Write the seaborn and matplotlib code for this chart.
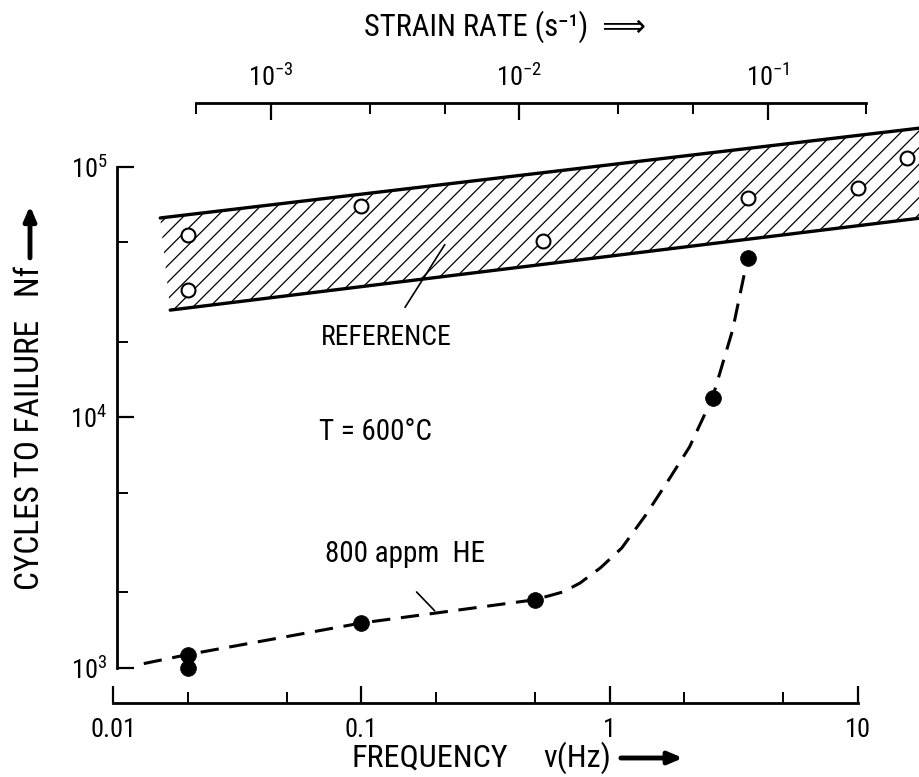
import matplotlib
matplotlib.use("Agg")
import matplotlib.pyplot as plt
import seaborn as sns
from matplotlib import font_manager, ticker

# ---- data -------------------------------------------------------------
# unirradiated reference tests (open circles)
ref_freq = [0.02, 0.02, 0.1, 0.54, 3.6, 10.0, 15.8]
ref_cycles = [53500, 32300, 69800, 50700, 75100, 82400, 108600]

# helium-implanted tests, 800 appm He (filled circles)
he_freq = [0.02, 0.02, 0.1, 0.5, 2.6, 3.6]
he_cycles = [1000, 1130, 1510, 1870, 12000, 43300]

# hand-drawn trend curve through the He data
curve_freq = [0.0133, 0.02, 0.1, 0.5, 0.65, 0.76, 0.92, 1.12, 1.4, 1.75, 2.1, 2.6, 3.13, 3.6]
curve_cycles = [1040, 1130, 1510, 1870, 2010, 2180, 2510, 3010, 4080, 5730, 7620, 12000, 22300, 43300]

# scatter band of the reference material
band_upper_freq = [0.0155, 18.0]
band_upper_cycles = [62500, 143000]
band_lower_freq = [0.017, 18.0]
band_lower_cycles = [26800, 62500]

freq_ticks = [0.01, 0.1, 1, 10]
freq_tick_labels = ["0.01", "0.1", "1", "10"]
freq_minor = [0.02, 0.05, 0.2, 0.5, 2, 5]
cycle_ticks = [1e3, 1e4, 1e5]
cycle_tick_labels = [r"$\mathregular{10^3}$", r"$\mathregular{10^4}$", r"$\mathregular{10^5}$"]
cycle_minor = [2e3, 5e3, 2e4, 5e4]
strain_ticks = [1e-3, 1e-2, 1e-1]
strain_tick_labels = [r"$\mathregular{10^{-3}}$", r"$\mathregular{10^{-2}}$", r"$\mathregular{10^{-1}}$"]
strain_minor = [5e-4, 2.5e-3, 5e-3, 2.5e-2, 5e-2, 0.25]
strain_per_hz = 0.0231  # strain rate (1/s) per Hz of cycling frequency

# ---- style ------------------------------------------------------------
sns.set_theme(style="ticks")
fonts = font_manager.fontManager.ttflist
names = {f.name for f in fonts}
stretch = "normal"
narrow = next((c for c in ["Liberation Sans Narrow", "Roboto Condensed",
                           "Open Sans Condensed", "Noto Sans Condensed"] if c in names), None)
if narrow is None:
    if any(f.name == "DejaVu Sans" and "condensed" in str(f.stretch) for f in fonts):
        narrow, stretch = "DejaVu Sans", "condensed"
    else:
        narrow = "Liberation Sans"
plt.rcParams["font.family"] = [narrow, "DejaVu Sans"]
plt.rcParams["font.stretch"] = stretch
plt.rcParams["mathtext.fontset"] = "custom"
plt.rcParams["mathtext.rm"] = narrow
plt.rcParams["hatch.linewidth"] = 0.9
ink = "black"

W, H = 920, 777
fig = plt.figure(figsize=(W / 100, H / 100), dpi=100)
ax = fig.add_axes([113 / W, 74 / H, 807 / W, 606 / H])
ax.set_xscale("log")
ax.set_yscale("log")
ax.set_xlim(0.01, 17.8)
ax.set_ylim(724, 190000)

# hatched scatter band
band_x = band_upper_freq + band_lower_freq[::-1]
band_y = band_upper_cycles + band_lower_cycles[::-1]
ax.fill(band_x, band_y, facecolor="none", edgecolor=ink, hatch="//", linewidth=0, zorder=1)
sns.lineplot(x=band_upper_freq, y=band_upper_cycles, color=ink, lw=2.4, ax=ax, zorder=2)
sns.lineplot(x=band_lower_freq, y=band_lower_cycles, color=ink, lw=2.4, ax=ax, zorder=2)

# He trend curve
sns.lineplot(x=curve_freq, y=curve_cycles, sort=False, estimator=None, color=ink,
             lw=2.2, linestyle=(0, (6, 3.5)), ax=ax, zorder=3)

sns.scatterplot(x=ref_freq, y=ref_cycles, marker="o", s=100, facecolor="white",
                edgecolor=ink, linewidth=1.5, ax=ax, zorder=4)
sns.scatterplot(x=he_freq, y=he_cycles, marker="o", s=130, color=ink,
                edgecolor=ink, linewidth=0.5, ax=ax, zorder=4)

# spines
for side in ["top", "right"]:
    ax.spines[side].set_visible(False)
for side in ["left", "bottom"]:
    ax.spines[side].set_color(ink)
    ax.spines[side].set_linewidth(2.0)
ax.spines["left"].set_position(("data", 0.01038))
ax.spines["left"].set_bounds(1e3, 1e5)
ax.spines["bottom"].set_bounds(0.01, 10)

ax.set_xticks(freq_ticks, freq_tick_labels)
ax.xaxis.set_minor_locator(ticker.FixedLocator(freq_minor))
ax.xaxis.set_minor_formatter(ticker.NullFormatter())
ax.set_yticks(cycle_ticks, cycle_tick_labels)
ax.yaxis.set_minor_locator(ticker.FixedLocator(cycle_minor))
ax.yaxis.set_minor_formatter(ticker.NullFormatter())
ax.tick_params(which="major", direction="in", length=12, width=1.6, color=ink,
               labelsize=19, labelcolor=ink, bottom=True, left=True)
ax.tick_params(which="minor", direction="in", length=8, width=1.4, color=ink,
               bottom=True, left=True)
ax.tick_params(axis="x", which="major", pad=11)
ax.tick_params(axis="y", which="major", pad=7)

# strain-rate axis on top
top = ax.secondary_xaxis(0.99, functions=(lambda f: f * strain_per_hz,
                                          lambda s: s / strain_per_hz))
top.set_xscale("log")
top.set_xticks(strain_ticks, strain_tick_labels)
top.xaxis.set_minor_locator(ticker.FixedLocator(strain_minor))
top.xaxis.set_minor_formatter(ticker.NullFormatter())
for side in ["top", "bottom"]:
    top.spines[side].set_bounds(5e-4, 0.25)
    top.spines[side].set_linewidth(2.0)
    top.spines[side].set_color(ink)
top.tick_params(which="major", direction="in", length=12, width=1.6, color=ink,
                labelsize=19, labelcolor=ink, pad=9)
top.tick_params(which="minor", direction="in", length=8, width=1.4, color=ink)

# annotations
ax.text(0.1255, 20760, "REFERENCE", ha="center", va="center", fontsize=20, color=ink)
ax.annotate("", xy=(0.22, 50000), xytext=(0.148, 26900),
            arrowprops=dict(arrowstyle="-", lw=1.2, color=ink))
ax.text(0.1143, 8750, "T = 600°C", ha="center", va="center", fontsize=21, color=ink)
ax.text(0.1496, 2850, "800 appm  HE", ha="center", va="center", fontsize=21, color=ink)
ax.annotate("", xy=(0.201, 1660), xytext=(0.164, 2046),
            arrowprops=dict(arrowstyle="-", lw=1.2, color=ink))

# axis titles with arrows
fig.text(505 / W, 1 - 27 / H, "STRAIN RATE (s⁻¹)  ⟹", ha="center", va="center",
         fontsize=22, color=ink)
fig.text(352 / W, 1 - 758 / H, "FREQUENCY", ha="left", va="center",
         fontsize=23, color=ink)
unit = fig.text(543 / W, 1 - 758 / H, "ν(Hz)", ha="left", va="center",
                fontsize=23, color=ink)
ylab = fig.text(30 / W, 1 - 428 / H, "CYCLES TO FAILURE   Nf", ha="center", va="center",
                rotation=90, fontsize=24, color=ink)

fig.canvas.draw()
ub = unit.get_window_extent()
yb = ylab.get_window_extent()
arrow_kw = dict(arrowstyle="-|>,head_length=0.7,head_width=0.3", lw=3.5, color=ink,
                shrinkA=0, shrinkB=0)
ymid = (ub.y0 + ub.y1) / 2
ax.annotate("", xy=(ub.x1 + 72, ymid), xytext=(ub.x1 + 10, ymid),
            xycoords="figure pixels", textcoords="figure pixels", arrowprops=arrow_kw)
xmid = (yb.x0 + yb.x1) / 2
ax.annotate("", xy=(xmid, yb.y1 + 60), xytext=(xmid, yb.y1 + 8),
            xycoords="figure pixels", textcoords="figure pixels", arrowprops=arrow_kw)

fig.savefig("out.png", dpi=100, facecolor="white")
